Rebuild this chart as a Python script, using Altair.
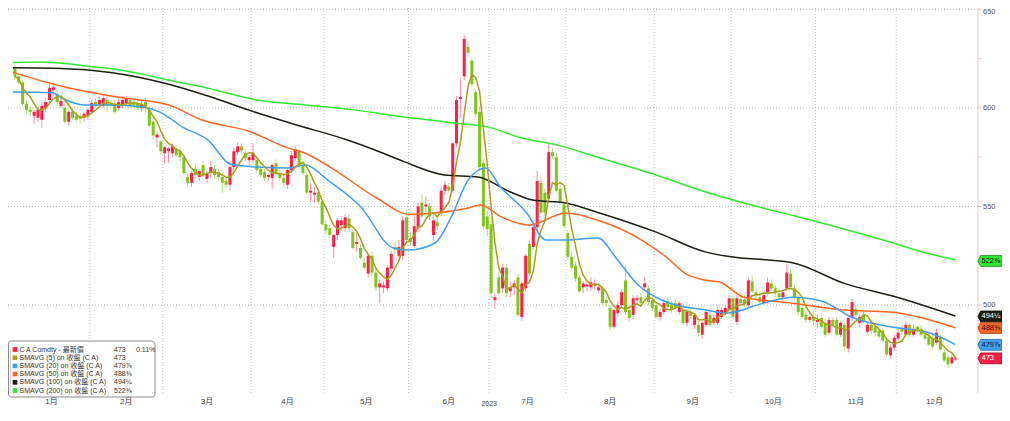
import altair as alt
import pandas as pd

# ---------------- data ----------------
opens = [
    620, 616, 613, 602, 599, 596, 595, 594, 600, 604,
    609, 607, 601, 600, 593, 598, 596, 596, 595, 596,
    598, 603, 602, 601, 604, 602, 602, 600, 601, 602,
    604, 603, 602, 600, 603, 599, 593, 585, 583, 577,
    578, 577, 579.5, 578, 575, 565, 562, 569, 565, 571,
    564, 567, 569, 567.5, 565, 563, 561, 570, 577.5, 580.5,
    577, 573.5, 573.5, 573.5, 569, 567.5, 565, 564.5, 572, 567,
    564.5, 561, 568.5, 574.5, 578, 571, 566, 557, 556, 557,
    552.5, 541, 539, 529.5, 535.5, 540.5, 539, 544, 537, 531,
    529, 521.5, 516, 525, 516.5, 509, 509, 508.5, 518.5, 529.5,
    525, 525, 544.5, 534, 530, 539, 552, 550, 550, 535.5,
    542, 546.5, 558, 560, 558, 582, 604.5, 616, 631, 624,
    608, 598, 572, 545, 541, 502.5, 514, 508.5, 519, 507,
    509, 514, 494, 508.5, 531, 529.5, 539.5, 562, 557, 554,
    577.5, 575, 559, 551, 536.5, 524.5, 520, 514, 509, 509.5,
    509, 510, 507.5, 508.5, 502.5, 498.5, 489, 496, 500, 512.5,
    497.5, 495, 502.5, 504, 509, 508.5, 502.5, 500, 494, 496.5,
    502, 500, 501, 496.5, 497.5, 491, 496.5, 490, 490, 485,
    490, 495, 491, 491, 494, 496, 497.5, 503.5, 491.5, 503,
    503, 500, 512, 506.5, 504, 501, 506.5, 511, 508.5, 506,
    504, 508.5, 516, 508.5, 504, 498.5, 495, 492.5, 494, 491.5,
    493.5, 491, 486, 492.5, 492.5, 485, 490, 478, 493.5, 498,
    491, 495, 486.5, 490, 489, 487, 487, 482, 474.5, 478.5,
    483, 488, 485, 490, 485, 489, 488, 485, 484, 483.5,
    481, 484, 476, 473.5, 470.5, 472.5,
]
highs = [
    622, 617, 614, 604, 601, 599, 600, 603, 605, 612,
    613, 609, 605, 602, 599, 600, 598, 597, 598, 600,
    604, 605, 606, 607, 606, 604, 604, 605, 606, 606,
    606, 605, 604, 604, 605, 601, 594, 588, 584, 581,
    580, 582, 581, 580, 576, 567, 568, 572, 569, 573,
    568, 573, 571, 569, 567, 565, 573, 580, 582.5, 582,
    579, 576, 582, 575, 571, 569, 567, 572, 574, 569,
    566, 569, 578, 580.5, 579, 573, 567, 562, 560, 558,
    553, 543, 541, 536, 544, 545, 546, 546, 538, 537,
    531, 524, 526, 527, 518, 513, 512, 520, 527, 532,
    533, 545, 548, 537, 546, 552, 556, 555, 552, 546,
    545, 560, 563, 562, 583, 606, 615, 637, 634, 625,
    609, 600, 574, 548, 544, 506, 517, 521, 521, 512,
    513, 516, 512, 526, 533, 542, 568, 565, 559, 582,
    580, 577, 561, 553, 538, 527, 522, 515, 512, 512,
    514, 513, 511, 510, 504, 500, 498, 502, 508, 520,
    499, 505, 505, 506, 514, 510, 504, 501, 498, 503,
    504, 502, 503, 502, 499, 498, 498, 496, 492, 492,
    498, 497, 495, 499, 499, 500, 505, 505, 505, 506,
    505, 514, 515, 509, 507, 507, 514, 513, 510, 508,
    508, 521, 518, 510, 505, 500, 497, 496, 497, 495,
    495, 493, 494, 494, 494, 492, 491, 495, 503, 500,
    495, 497, 491, 492, 491, 489, 488, 483, 480, 485,
    488, 490, 492, 491, 490, 490, 490, 487, 486, 486,
    488, 485, 478, 475, 475, 474,
]
lows = [
    614, 612, 601, 597, 596, 592, 593, 590, 598, 602,
    606, 601, 600, 592, 591, 594, 593, 592, 593, 594,
    597, 600, 600, 600, 598, 600, 597, 599, 600, 601,
    600, 600, 599, 598, 598, 590, 584, 580, 576, 572,
    572, 575, 575, 573, 566, 560, 560, 564, 563, 565,
    562, 565, 564, 563, 557, 559, 558, 568, 576, 577,
    573, 571, 572, 567, 565, 563, 563, 559, 566, 563,
    560, 559, 567, 573, 570, 566, 556, 552, 552, 551,
    540, 536, 534, 524, 533, 538, 537, 537, 528, 527,
    523, 518, 514, 515, 507, 501, 506, 507, 517, 526,
    523, 523, 531, 530, 529, 537, 544, 547, 543, 533,
    538, 545, 556, 557, 557, 580, 595, 614, 626, 611,
    595, 568, 538, 535, 504, 498, 505, 506, 504, 504,
    505, 494, 492, 507, 515, 528, 538, 546, 545, 552,
    574, 557, 551, 539, 523, 518, 512, 506, 506, 507,
    507, 508, 506, 500, 499, 487, 488, 494, 498, 495,
    492, 493, 500, 499, 507, 500, 497, 493, 492, 495,
    498, 496, 498, 495, 490, 489, 493, 488, 484, 483,
    489, 489, 490, 490, 493, 495, 496, 493, 490, 500,
    499, 499, 506, 503, 500, 500, 505, 507, 504, 503,
    502, 507, 508, 503, 495, 493, 491, 491, 490, 488,
    488, 484, 485, 489, 484, 484, 477, 476, 492, 494,
    489, 491, 485, 485, 484, 483, 481, 474, 473, 477,
    482, 485, 484, 484, 484, 486, 484, 482, 479, 478,
    480, 477, 471, 468, 469.5, 471.5,
]
closes = [
    616, 613, 602, 599, 598, 598, 599, 601, 603, 610,
    610.5, 603, 603.5, 593, 598, 595, 594, 594.5, 597, 599,
    602.5, 601, 604, 605, 601, 601, 598, 603, 604, 605,
    601, 601, 600, 602, 600, 591, 586, 586.5, 578, 580,
    579.5, 580.5, 576, 575, 567, 562, 567, 566, 568, 566,
    567, 570, 566, 565, 562, 561, 570, 578, 580.5, 578.5,
    574.5, 575, 577, 568.5, 566, 564.5, 566, 571, 567, 564.5,
    562, 568.5, 576, 579, 571, 567, 557, 558, 557, 552.5,
    541, 538, 535.5, 535.5, 543, 543, 544.5, 539, 529, 532,
    524, 519, 525, 516.5, 509, 511, 510, 519, 526, 528,
    529.5, 543, 533, 532, 540, 550, 545, 551, 545, 543,
    540, 558, 561, 558, 582, 604, 605.5, 635, 628, 612,
    597, 570, 540, 538.5, 506, 504, 506, 519, 506, 509,
    511, 495, 511, 525, 516, 539.5, 563, 547, 547, 577.5,
    575.5, 558, 552.5, 540, 524.5, 519, 513.5, 507, 511, 510.5,
    511.5, 511, 509, 501, 501, 489, 497.5, 500, 506.5, 496.5,
    493.5, 503.5, 503.5, 501, 511, 501.5, 498.5, 494, 496.5, 501,
    499, 497.5, 499, 501, 491, 496.5, 494.5, 495, 486, 491,
    496.5, 490, 493.5, 497.5, 497.5, 498.5, 503.5, 494, 503.5, 501,
    500.5, 512.5, 507, 505, 501.5, 505, 511.5, 508.5, 506, 504,
    506.5, 516.5, 509, 504, 496.5, 494, 492.5, 494, 492, 492.5,
    489, 485, 492.5, 490, 485, 491, 479, 493.5, 501.5, 495,
    494, 492, 490, 487, 486, 484, 482, 475, 478.5, 483.5,
    486, 486.5, 490, 485, 488, 487, 485, 483, 480, 479,
    486, 477.5, 472, 470, 473.5, 473,
]

month_names = ["1月", "2月", "3月", "4月", "5月", "6月",
               "7月", "8月", "9月", "10月", "11月", "12月"]
month_days = [20, 19, 23, 19, 22, 21, 20, 23, 20, 22, 21, 20]
year_label = "2023"
price_ticks = [500, 550, 600, 650]
minor_ticks = [475, 525, 575, 625]

sma20_day = [0, 10.2, 12.7, 18.5, 25.4, 33.8, 38.1, 44.4, 50.8, 56.6, 63.5, 71.8,
             76.1, 82, 90.6, 99, 103.3, 109.9, 114.2, 118.5, 123.1, 126.9, 133.8,
             138.8, 143.9, 152.3, 157.4, 162.4, 170.1, 180.2, 186, 195.4, 203,
             210.7, 218.3, 228.4, 238.6, 245.4]
sma20_val = [608, 607.7, 605, 601.5, 601.5, 600.4, 598, 590, 583.7, 571.5, 570, 569.5,
             571, 563.4, 549.8, 529, 528, 531.5, 545, 563.4, 569.5, 560, 546.7,
             533, 533, 534, 523, 511, 501.6, 497.6, 496, 501, 504,
             502, 494, 489, 486, 480]
sma50_day = [0, 13.5, 27.2, 40.6, 49, 61.7, 71.1, 76.1, 83, 94.7, 103.3, 109.9, 118,
             121.8, 126.9, 134.5, 143.9, 152.3, 163.7, 170.1, 175.1, 180.2, 184,
             190.4, 203, 215.7, 228.4, 245.4]
sma50_val = [618, 610.6, 605.5, 601.5, 594, 588, 580, 577, 569.5, 554.3, 546, 546.7, 549,
             550.8, 545, 540.6, 546.7, 543, 533, 524.4, 516, 512.7, 511.7,
             504, 501, 497.6, 496.5, 488.5]
sma100_day = [0, 12.7, 25.4, 40.6, 50.8, 63.5, 73.6, 87.1, 96.4, 101.5, 112.4, 121.1,
              129.4, 135.3, 143.9, 152.3, 167.5, 180.2, 187.1, 203, 216.5, 230.2, 245.4]
sma100_val = [620.3, 620, 618, 612, 606, 597.5, 591.5, 583.7, 577, 573, 566, 565,
              557.5, 553.3, 551.8, 547, 537, 527, 524.5, 521.5, 511, 504, 494.5]
sma200_day = [0, 6.9, 13.5, 20.3, 27.2, 33.8, 40.6, 50.8, 63.5, 76.1, 88.8, 101.5,
              114.2, 124.4, 132, 142.1, 152.3, 167.5, 180.2, 192.9, 203, 215.7,
              228.4, 238.6, 245.4]
sma200_val = [623, 623.3, 622.5, 621, 619.5, 617, 614, 610, 604, 601.5, 599, 595.5,
              592.5, 590, 585, 581, 575, 566, 557.5, 550.5, 545.5, 539,
              532, 526, 523]

legend_labels = ["C A Comdty - 最新價", "SMAVG (5) on 收盤 (C A)", "SMAVG (20) on 收盤 (C A)",
                 "SMAVG (50) on 收盤 (C A)", "SMAVG (100) on 收盤 (C A)", "SMAVG (200) on 收盤 (C A)"]
legend_values = ["473", "473", "479⅞", "488⅜", "494¼", "522⅜"]
last_change = "0.11%"

tag_values = [522.375, 494.25, 488.375, 479.875, 473]
tag_labels = ["522⅜", "494¼", "488⅜", "479⅞", "473"]

# ---------------- styling ----------------
RED, RED_W = "#ff1f47", "#ff8ea2"
GRN, GRN_W = "#80c41c", "#b6dc78"
C5, C20, C50, C100, C200 = "#a89f1c", "#3f9ff2", "#ff6622", "#1e1e14", "#33e833"
legend_colors = [RED, C5, C20, C50, C100, C200]
tag_fills = [C200, C100, C50, C20, RED]
tag_edges = ["#1a8a1a", "#000000", "#a83a00", "#1f5fa8", "#a8001f"]
tag_text = ["#111111", "#ffffff", "#111111", "#111111", "#ffffff"]
FONT = "'Liberation Sans', 'Noto Sans CJK TC', sans-serif"
AXIS_PINK = "#f3c3c3"

W, H = 970, 381
xs = alt.Scale(domain=[0, 250], nice=False, zero=False)
ys = alt.Scale(domain=[455.43, 648.63], nice=False, zero=False)

n = len(closes)
cdf = pd.DataFrame({"day": [i + 0.5 for i in range(n)], "open": opens,
                    "high": highs, "low": lows, "close": closes})

bounds, centers, acc = [], [], 0
for m in month_days:
    centers.append(acc + m / 2)
    acc += m
    bounds.append(acc)
bounds = bounds[:-1]
mdf = pd.DataFrame({"m": month_names, "c": centers})

ma_rows = []
for name, dd, vv in [("SMAVG (200)", sma200_day, sma200_val), ("SMAVG (100)", sma100_day, sma100_val),
                     ("SMAVG (50)", sma50_day, sma50_val), ("SMAVG (20)", sma20_day, sma20_val)]:
    for d, v in zip(dd, vv):
        ma_rows.append({"s": name, "day": d, "val": v})
madf = pd.DataFrame(ma_rows)

xenc = lambda f: alt.X(f, type="quantitative", scale=xs, axis=None)
yenc = lambda f: alt.Y(f, type="quantitative", scale=ys, axis=None)
updown = lambda a, b: alt.condition("datum.close >= datum.open", alt.value(a), alt.value(b))

tick_df = pd.DataFrame({"v": price_ticks, "t": [str(v) for v in price_ticks]})
one = pd.DataFrame({"a": [0]})

hgrid = alt.Chart(tick_df).mark_rule(
    color="#b9b9b9", strokeDash=[1, 2], strokeWidth=1).encode(
    y=yenc("v"), x=alt.value(0), x2=alt.value(W))
ylabels = alt.Chart(tick_df).transform_filter("datum.v < 640").mark_text(
    align="left", baseline="middle", fontSize=7.5, color="#555555", font=FONT).encode(
    x=alt.value(W + 5), y=yenc("v"), text="t:N")
ylabel_top = alt.Chart(tick_df).transform_filter("datum.v >= 640").mark_text(
    align="left", baseline="middle", fontSize=7.5, color="#555555", font=FONT, dy=2.5).encode(
    x=alt.value(W + 5), y=yenc("v"), text="t:N")
ydomain = alt.Chart(one).mark_rule(color=AXIS_PINK, strokeWidth=1).encode(
    x=alt.value(W), y=alt.value(-4), y2=alt.value(H))
yticks = alt.Chart(pd.DataFrame({"v": price_ticks + minor_ticks})).mark_rule(
    color=AXIS_PINK, strokeWidth=1).encode(x=alt.value(W), x2=alt.value(W + 3), y=yenc("v"))

vgrid = alt.Chart(pd.DataFrame({"d": bounds})).mark_rule(
    color="#c2c2c2", strokeDash=[1, 2], strokeWidth=1).encode(
    x=xenc("d"), y=alt.value(-4), y2=alt.value(H))

wick = alt.Chart(cdf).mark_rule(strokeWidth=1).encode(
    x=xenc("day"), y=yenc("low"), y2="high:Q", color=updown(RED_W, GRN_W))

body = alt.Chart(cdf).mark_bar(size=3).encode(
    x=xenc("day"), y=yenc("open"), y2="close:Q", color=updown(RED, GRN))

ma_lines = alt.Chart(madf).mark_line(strokeWidth=1.5, interpolate="monotone").encode(
    x=xenc("day"), y=yenc("val"),
    color=alt.Color("s:N", scale=alt.Scale(
        domain=["SMAVG (200)", "SMAVG (100)", "SMAVG (50)", "SMAVG (20)"],
        range=[C200, C100, C50, C20]), legend=None))

sma5 = alt.Chart(cdf).transform_window(
    sma5="mean(close)", frame=[-4, 0], sort=[alt.SortField("day")]).mark_line(
    color=C5, strokeWidth=1.5).encode(x=xenc("day"), y=yenc("sma5"))

tdf = pd.DataFrame({"v": tag_values, "label": tag_labels, "fill": tag_fills,
                    "edge": tag_edges, "tc": tag_text})
TAG = "M -1 0 L -0.78 -0.45 L 1 -0.45 L 1 0.45 L -0.78 0.45 Z"
tag_shape = alt.Chart(tdf).mark_point(shape=TAG, filled=True, size=576, strokeWidth=0.8,
                                      opacity=1).encode(
    x=alt.value(W + 12), y=yenc("v"),
    fill=alt.Fill("fill:N", scale=None), stroke=alt.Stroke("edge:N", scale=None))
tag_txt = alt.Chart(tdf).mark_text(align="left", baseline="middle", fontSize=7.5,
                                   font=FONT).encode(
    x=alt.value(W + 3.5), y=yenc("v"), text="label:N", color=alt.Color("tc:N", scale=None))

months = alt.Chart(mdf).mark_text(fontSize=8, color="#444444", font=FONT,
                                  baseline="middle").encode(
    x=xenc("c"), y=alt.value(H + 9), text="m:N")
year = alt.Chart(pd.DataFrame({"t": [year_label], "d": [bounds[5]]})).mark_text(
    fontSize=7, color="#444444", font=FONT, baseline="middle").encode(
    x=xenc("d"), y=alt.value(H + 10.5), text="t:N")

LY0, LDY = 337.5, 8.2
legend_layers = [
    alt.Chart(one).mark_rect(fill="white", stroke="#8c8c8c", strokeWidth=1,
                             cornerRadius=3).encode(
        x=alt.value(0.5), x2=alt.value(147), y=alt.value(329), y2=alt.value(385)),
    alt.Chart(one).mark_rule(color="#a0a0a0", strokeDash=[1, 1]).encode(
        x=alt.value(2.5), y=alt.value(LY0), y2=alt.value(LY0 + 5 * LDY)),
]
for k, (lab, val, col) in enumerate(zip(legend_labels, legend_values, legend_colors)):
    yk = LY0 + LDY * k
    row = pd.DataFrame({"lab": [lab], "val": [val]})
    legend_layers.append(alt.Chart(row).mark_square(size=22, color=col, opacity=1).encode(
        x=alt.value(7), y=alt.value(yk)))
    legend_layers.append(alt.Chart(row).mark_text(
        align="left", baseline="middle", fontSize=7, color="#333333", font=FONT).encode(
        x=alt.value(11.5), y=alt.value(yk), text="lab:N"))
    legend_layers.append(alt.Chart(row).mark_text(
        align="left", baseline="middle", fontSize=7, color="#333333", font=FONT).encode(
        x=alt.value(106), y=alt.value(yk), text="val:N"))
legend_layers.append(alt.Chart(pd.DataFrame({"t": [last_change]})).mark_text(
    align="left", baseline="middle", fontSize=7, color="#333333", font=FONT).encode(
    x=alt.value(128), y=alt.value(LY0), text="t:N"))

chart = alt.layer(
    hgrid, vgrid, ydomain, yticks, ylabels, ylabel_top, wick, body, ma_lines, sma5,
    tag_shape, tag_txt, months, year, *legend_layers
).properties(
    width=W, height=H,
    padding={"left": 0, "top": 4, "right": 24, "bottom": 14},
    autosize=alt.AutoSizeParams(type="none"),
    background="white",
).configure_view(stroke=None)

chart.save("out.html", embed_options={"renderer": "svg", "actions": False})
